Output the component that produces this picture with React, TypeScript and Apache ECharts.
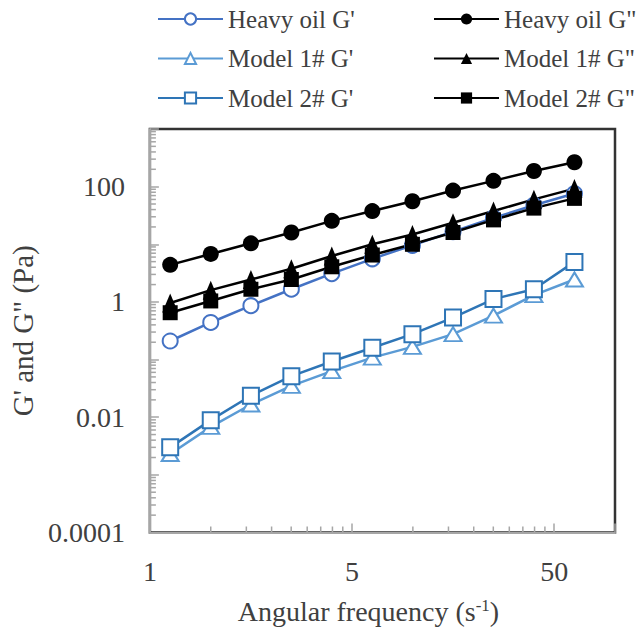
import React, { useEffect, useRef } from 'react';
import * as echarts from 'echarts';

// Angular frequency (s^-1)
const FREQ = [1.26, 2.0, 3.16, 5.01, 7.94, 12.6, 19.9, 31.6, 50.1, 79.4, 126];

// Storage modulus G' (Pa)
const HEAVY_G1 = [0.21, 0.44, 0.86, 1.66, 3.1, 5.6, 9.6, 16.6, 28.7, 47.6, 76];
const M1_G1 = [0.0023, 0.0068, 0.0166, 0.035, 0.063, 0.108, 0.166, 0.276, 0.58, 1.31, 2.45];
const M2_G1 = [0.003, 0.0089, 0.0236, 0.0515, 0.0925, 0.16, 0.276, 0.536, 1.12, 1.66, 4.95];

// Loss modulus G'' (Pa)
const HEAVY_G2 = [4.4, 6.8, 10.4, 16.0, 25.5, 37.7, 55.7, 85.5, 126, 187, 265];
const M1_G2 = [0.96, 1.6, 2.45, 3.77, 6.26, 10.0, 14.8, 23.6, 37.7, 60.2, 92.5];
const M2_G2 = [0.65, 1.04, 1.66, 2.45, 4.07, 6.51, 10.0, 16.0, 26.5, 42.4, 62.6];

const SERIES_NAMES = [
  "Heavy oil G'",
  "Model 1# G'",
  "Model 2# G'",
  "Heavy oil G\"",
  "Model 1# G\"",
  "Model 2# G\"",
];

// tick labels keyed by decade exponent
const X_TICK_LABELS: Record<string, string> = { '0': '1', '1': '5', '2': '50' };
const Y_TICK_LABELS: Record<string, string> = { '-4': '0.0001', '-2': '0.01', '0': '1', '2': '100' };

const X_MIN = 1;
const X_MAX = 200;
const Y_MIN = 0.0001;
const Y_MAX = 1000;
const MINOR_MULTS = [2, 3, 4, 5, 6, 7, 8, 9];

export default function App() {
  const ref = useRef<HTMLDivElement>(null);

  useEffect(() => {
    const chart = echarts.init(ref.current!, null, { renderer: 'svg' });
    const font = "'Liberation Serif', 'Times New Roman', serif";
    const textColor = '#404040';
    const axisGray = '#a6a6a6';

    const minorTicks: number[][] = [];
    for (let e = 0; e <= 2; e++) {
      for (const m of MINOR_MULTS) {
        const v = m * Math.pow(10, e);
        if (v < X_MAX) minorTicks.push([v, Y_MIN, 0]);
      }
    }
    for (let e = -4; e <= 2; e++) {
      for (const m of MINOR_MULTS) {
        const v = m * Math.pow(10, e);
        if (v < Y_MAX) minorTicks.push([X_MIN, v, 1]);
      }
    }

    const pairs = (ys: number[]) => FREQ.map((f, i) => [f, ys[i]]);

    const lineSeries = (
      name: string,
      ys: number[],
      color: string,
      symbol: string,
      symbolSize: number | number[],
      filled: boolean
    ) => ({
      name,
      type: 'line',
      data: pairs(ys),
      symbol,
      symbolSize,
      showSymbol: true,
      lineStyle: { color, width: 2.5 },
      itemStyle: filled
        ? { color, borderColor: color, borderWidth: 0 }
        : { color: '#ffffff', borderColor: color, borderWidth: 2 },
      emphasis: { disabled: true },
    });

    const xFormatter = (v: number) => {
      const l = Math.log10(v);
      const r = Math.round(l);
      if (Math.abs(l - r) > 1e-6) return '';
      return X_TICK_LABELS[String(r)] ?? '';
    };
    const yFormatter = (v: number) => {
      const l = Math.log10(v);
      const r = Math.round(l);
      if (Math.abs(l - r) > 1e-6) return '';
      return Y_TICK_LABELS[String(r)] ?? '';
    };

    const legendCommon = {
      orient: 'vertical',
      top: 5,
      padding: 0,
      itemWidth: 65,
      itemHeight: 14,
      itemGap: 11.5,
      textStyle: { fontFamily: font, fontSize: 25, color: textColor, lineHeight: 28 },
      selectedMode: false,
    };

    chart.setOption({
      animation: false,
      backgroundColor: '#ffffff',
      textStyle: { fontFamily: font },
      legend: [
        { ...legendCommon, left: 157, data: SERIES_NAMES.slice(0, 3) },
        { ...legendCommon, left: 433, data: SERIES_NAMES.slice(3) },
      ],
      grid: {
        left: 145,
        top: 129,
        width: 470,
        height: 413,
        show: true,
        borderColor: '#333333',
        borderWidth: 2.5,
        backgroundColor: 'transparent',
      },
      xAxis: {
        type: 'log',
        logBase: 10,
        min: X_MIN,
        max: X_MAX,
        name: 'Angular frequency (s{sup|-1})',
        nameLocation: 'middle',
        nameGap: 64,
        nameTextStyle: {
          fontFamily: font,
          fontSize: 28,
          color: textColor,
          padding: [0, 28, 0, 0],
          rich: {
            sup: { fontFamily: font, fontSize: 17, color: textColor, verticalAlign: 'top', padding: [0, 0, 12, 0] },
          },
        },
        axisLine: { show: true, lineStyle: { color: axisGray, width: 2 } },
        axisTick: { show: true, inside: true, length: 9, lineStyle: { color: axisGray, width: 1.5 } },
        minorTick: { show: false },
        splitLine: { show: false },
        axisLabel: {
          formatter: xFormatter,
          fontFamily: font,
          fontSize: 28,
          color: textColor,
          margin: 25,
          showMinLabel: true,
          showMaxLabel: true,
        },
      },
      yAxis: {
        type: 'log',
        logBase: 10,
        min: Y_MIN,
        max: Y_MAX,
        name: "G' and G\" (Pa)",
        nameLocation: 'middle',
        nameGap: 96,
        nameTextStyle: { fontFamily: font, fontSize: 29, color: textColor },
        axisLine: { show: true, lineStyle: { color: axisGray, width: 2 } },
        axisTick: { show: true, inside: true, length: 9, lineStyle: { color: axisGray, width: 1.5 } },
        minorTick: { show: false },
        splitLine: { show: false },
        axisLabel: {
          formatter: yFormatter,
          fontFamily: font,
          fontSize: 28,
          color: textColor,
          margin: 25,
          showMinLabel: true,
          showMaxLabel: true,
        },
      },
      series: [
        {
          type: 'custom',
          name: 'minor ticks',
          silent: true,
          data: minorTicks,
          encode: { x: 0, y: 1 },
          clip: false,
          renderItem: (_params: any, api: any) => {
            const kind = api.value(2);
            const len = 6;
            if (kind === 0) {
              const p = api.coord([api.value(0), Y_MIN]);
              return {
                type: 'line',
                shape: { x1: p[0], y1: p[1], x2: p[0], y2: p[1] - len },
                style: { stroke: axisGray, lineWidth: 1.5 },
              };
            }
            const p = api.coord([X_MIN, api.value(1)]);
            return {
              type: 'line',
              shape: { x1: p[0], y1: p[1], x2: p[0] + len, y2: p[1] },
              style: { stroke: axisGray, lineWidth: 1.5 },
            };
          },
        },
        lineSeries(SERIES_NAMES[0], HEAVY_G1, '#4472C4', 'circle', 15, false),
        lineSeries(SERIES_NAMES[1], M1_G1, '#5B9BD5', 'triangle', [17, 14], false),
        lineSeries(SERIES_NAMES[2], M2_G1, '#2E75B6', 'rect', 16, false),
        lineSeries(SERIES_NAMES[3], HEAVY_G2, '#000000', 'circle', 16, true),
        lineSeries(SERIES_NAMES[4], M1_G2, '#000000', 'triangle', [16, 19], true),
        lineSeries(SERIES_NAMES[5], M2_G2, '#000000', 'rect', 15, true),
      ],
    });

    return () => {
      chart.dispose();
    };
  }, []);

  return (
    <div
      ref={ref}
      style={{ position: 'fixed', left: 0, top: 0, width: 644, height: 630 }}
    />
  );
}
